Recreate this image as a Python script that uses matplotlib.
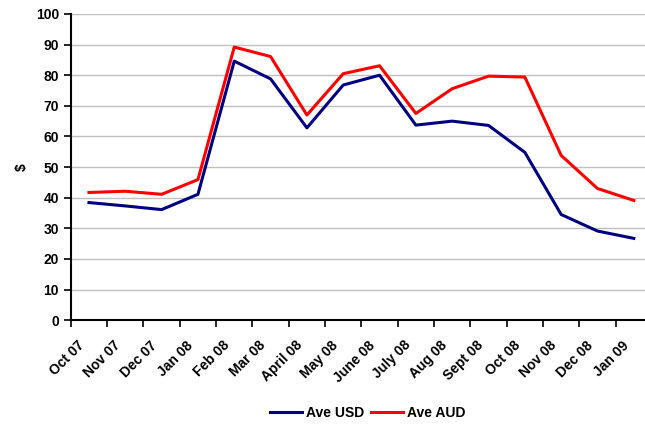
import numpy as np
import matplotlib.pyplot as plt

months = ["Oct 07", "Nov 07", "Dec 07", "Jan 08", "Feb 08", "Mar 08", "April 08", "May 08",
          "June 08", "July 08", "Aug 08", "Sept 08", "Oct 08", "Nov 08", "Dec 08", "Jan 09"]
ave_usd = [38.4, 37.3, 36.1, 41.1, 84.6, 78.8, 62.8, 76.8, 80.0, 63.7, 65.0, 63.6, 54.8, 34.5, 29.1, 26.7]
ave_aud = [41.7, 42.1, 41.1, 45.9, 89.2, 86.1, 67.0, 80.5, 83.1, 67.5, 75.6, 79.7, 79.4, 53.8, 43.0, 39.1]

plt.rcParams['font.family'] = ['Liberation Sans', 'DejaVu Sans']
plt.rcParams['font.weight'] = 'bold'

fig = plt.figure(figsize=(6.45, 4.24), dpi=100)
ax = fig.add_axes([0.1098, 0.245, 0.901, 0.722])

x = np.arange(len(months))
ax.plot(x, ave_usd, color="#000080", lw=2.2, label="Ave USD")
ax.plot(x, ave_aud, color="#ff0000", lw=2.2, label="Ave AUD")

ax.set_xlim(-0.5, len(months) - 0.5)
ax.set_ylim(0, 100)
ax.set_yticks(np.arange(0, 101, 10))
ax.yaxis.grid(True, color="#c0c0c0", lw=1)
ax.set_axisbelow(True)

# ticks on category boundaries, labels a bit left of the centres (rotated text)
ax.set_xticks(np.arange(-0.5, len(months) - 0.5, 1))
ax.set_xticklabels([])
ax.set_xticks(x - 0.33, minor=True)
ax.set_xticklabels(months, minor=True, rotation=45, ha="right", va="top",
                   rotation_mode="anchor", fontsize=10, fontweight="bold")
ax.tick_params(axis="x", which="minor", length=0, pad=13)
ax.tick_params(axis="x", which="major", length=5, width=1.2, direction="out")
ax.tick_params(axis="y", length=5, width=1.2, direction="out", labelsize=10)

for s in ["top", "right"]:
    ax.spines[s].set_visible(False)
ax.spines["left"].set_linewidth(1.5)
ax.spines["bottom"].set_linewidth(1.5)

ax.set_ylabel("$", fontsize=10, fontweight="bold", labelpad=5)

fig.legend(loc="lower center", bbox_to_anchor=(0.57, -0.02), ncol=2, frameon=False,
           fontsize=10, handlelength=2.3, handletextpad=0.3, columnspacing=0.5)

plt.savefig("out.png", dpi=100)
